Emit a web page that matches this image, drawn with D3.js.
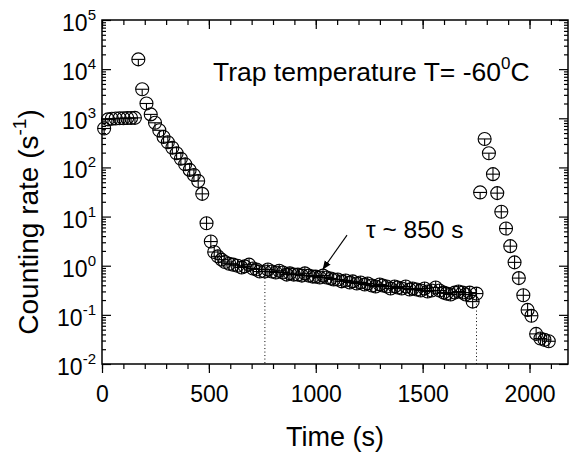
<!DOCTYPE html>
<html><head><meta charset="utf-8">
<script src="https://cdn.jsdelivr.net/npm/d3@7"></script>
<style>
body{margin:0;background:#fff}
svg{display:block}
text{font-family:"Liberation Sans",Arial,sans-serif;fill:#000}
</style>
</head><body>
<svg id="c" width="570" height="455"></svg>
<script>
// ---- data ----
const times = [
  10, 28, 46, 64, 82, 100, 118, 136, 154,
  170, 188, 208, 228, 248, 268, 288, 308, 329, 349, 369, 389, 410, 430, 450, 469, 489, 509,
  525, 542, 559, 575, 595, 614, 634, 653, 668, 688, 706, 723, 738, 762, 776, 794, 813, 829, 846, 864, 879, 897, 916, 935, 949, 967, 986, 1000,
  1019, 1034, 1051, 1070, 1084, 1103, 1121, 1140, 1159, 1173, 1192, 1210, 1229, 1243, 1262, 1280, 1299, 1313, 1332, 1350, 1369, 1383, 1402, 1421,
  1439, 1453, 1472, 1491, 1509, 1523, 1542, 1561, 1579, 1598, 1612, 1631, 1650, 1668, 1687, 1701, 1720, 1734, 1752,
  1769, 1790, 1810, 1829, 1849, 1868, 1890, 1910, 1930, 1950, 1971, 1991, 2009, 2031, 2051, 2070, 2090
];
const rates = [
  620, 950, 980, 990, 1000, 1000, 1010, 1010, 1020,
  15800, 3900, 2000, 1200, 810, 570, 415, 326, 252, 194, 150, 116, 89, 70, 53, 29, 7.3, 3.1,
  1.9, 1.55, 1.33, 1.19, 1.10, 1.05, 1.0, 0.92, 0.97, 1.05, 0.88, 0.84, 0.76, 0.76, 0.84, 0.76, 0.73, 0.79, 0.73, 0.66, 0.70, 0.66, 0.66, 0.63, 0.70, 0.63, 0.60, 0.60,
  0.575, 0.63, 0.575, 0.55, 0.525, 0.525, 0.48, 0.50, 0.455, 0.48, 0.435, 0.455, 0.414, 0.435, 0.395, 0.377, 0.414, 0.395, 0.377, 0.343, 0.377, 0.36, 0.343, 0.377,
  0.327, 0.343, 0.327, 0.312, 0.343, 0.298, 0.312, 0.36, 0.312, 0.284, 0.271, 0.259, 0.284, 0.298, 0.284, 0.259, 0.284, 0.186, 0.271,
  31, 380, 195, 73, 30, 12.5, 5.7, 2.5, 1.17, 0.56, 0.25, 0.126, 0.096, 0.041, 0.033, 0.031, 0.029
];
// points drawn with only the lower half of the vertical bar
const halfMarkerTimes = [10, 28, 46, 64, 82, 100, 118, 136, 154, 170, 188, 208, 228, 248, 268, 1769, 1790, 1810];
// times marked by dotted drop lines
const dropLineTimes = [762, 1752];
const xTickValues = [0, 500, 1000, 1500, 2000];
const xTickLabels = ["0", "500", "1000", "1500", "2000"];
const yExponents = [-2, -1, 0, 1, 2, 3, 4, 5];
const xTitle = "Time (s)";
const yTitleMain = "Counting rate (s";
const yTitleSup = "-1";
const noteMain = "Trap temperature T= -60";
const noteSup = "0";
const noteEnd = "C";
const tauLabel = "\u03C4 ~ 850 s";
const tauTime = 1034;

// ---- layout ----
const L = 102, R = 568, T = 20, B = 364;
const svg = d3.select("#c");
const x = d3.scaleLinear().domain([0, 2180]).range([L, R]);
const y = d3.scaleLog().domain([1e-2, 1e5]).range([B, T]);

const minorX = d3.range(0, 2101, 100);
const minorY = [];
for (let e = -2; e < 5; e++) for (let d = 2; d <= 9; d++) minorY.push(d * Math.pow(10, e));
const majorY = yExponents.map(e => Math.pow(10, e));

function clean(g){ g.select(".domain").remove(); g.selectAll("line").attr("stroke","#000").attr("stroke-width",1.2); }

// bottom (outward)
svg.append("g").attr("transform",`translate(0,${B})`)
  .call(d3.axisBottom(x).tickValues(minorX).tickSize(5).tickFormat("")).call(clean);
const gb = svg.append("g").attr("transform",`translate(0,${B})`)
  .call(d3.axisBottom(x).tickValues(xTickValues).tickSize(9).tickPadding(13)
        .tickFormat((d,i)=>xTickLabels[i])).call(clean);
gb.selectAll("text").attr("font-size",23).attr("font-family","Liberation Sans, Arial, sans-serif");

// top (inward)
svg.append("g").attr("transform",`translate(0,${T})`)
  .call(d3.axisTop(x).tickValues(minorX).tickSize(-5).tickFormat("")).call(clean);
svg.append("g").attr("transform",`translate(0,${T})`)
  .call(d3.axisTop(x).tickValues(xTickValues).tickSize(-9).tickFormat("")).call(clean);

// left (inward)
svg.append("g").attr("transform",`translate(${L},0)`)
  .call(d3.axisLeft(y).tickValues(minorY).tickSize(-4).tickFormat("")).call(clean);
svg.append("g").attr("transform",`translate(${L},0)`)
  .call(d3.axisLeft(y).tickValues(majorY).tickSize(-9).tickFormat("")).call(clean);
// right (inward)
svg.append("g").attr("transform",`translate(${R},0)`)
  .call(d3.axisRight(y).tickValues(minorY).tickSize(-4).tickFormat("")).call(clean);
svg.append("g").attr("transform",`translate(${R},0)`)
  .call(d3.axisRight(y).tickValues(majorY).tickSize(-9).tickFormat("")).call(clean);

// frame
svg.append("rect").attr("x",L).attr("y",T).attr("width",R-L).attr("height",B-T)
  .attr("fill","none").attr("stroke","#000").attr("stroke-width",1.5);

// y tick labels 10^n
const yl = svg.append("g");
yExponents.forEach(e=>{
  const t = yl.append("text").attr("x",96).attr("y",y(Math.pow(10,e))+11)
    .attr("text-anchor","end").attr("font-size",23);
  t.append("tspan").text("10");
  t.append("tspan").attr("font-size",15).attr("dy",-11).text(String(e));
});

// axis titles
svg.append("text").attr("x",(L+R)/2).attr("y",446).attr("text-anchor","middle")
  .attr("font-size",27).text(xTitle);
const yt = svg.append("text").attr("transform","translate(38,222) rotate(-90)")
  .attr("text-anchor","middle").attr("font-size",28);
yt.append("tspan").text(yTitleMain);
yt.append("tspan").attr("font-size",19).attr("dy",-12).text(yTitleSup);
yt.append("tspan").attr("dy",12).text(")");

// note
const nt = svg.append("text").attr("x",213).attr("y",81).attr("font-size",26.5);
nt.append("tspan").text(noteMain);
nt.append("tspan").attr("font-size",17).attr("dy",-12).text(noteSup);
nt.append("tspan").attr("dy",12).text(noteEnd);

// dotted drop lines
const r = 6.5;
dropLineTimes.forEach(tt=>{
  const i = times.indexOf(tt);
  svg.append("line").attr("x1",x(tt)).attr("x2",x(tt))
    .attr("y1",y(rates[i])+r).attr("y2",B)
    .attr("stroke","#000").attr("stroke-width",1).attr("stroke-dasharray","1,2.5");
});

// markers
const pts = svg.append("g").attr("fill","none").attr("stroke","#000").attr("stroke-width",1.1);
times.forEach((tt,i)=>{
  const g = pts.append("g").attr("transform",`translate(${x(tt)},${y(rates[i])})`);
  g.append("circle").attr("r",r);
  g.append("line").attr("x1",-r).attr("x2",r).attr("y1",0).attr("y2",0);
  const half = halfMarkerTimes.includes(tt);
  g.append("line").attr("x1",0).attr("x2",0).attr("y1",half?0:-r).attr("y2",r);
});

// tau annotation
svg.append("defs").append("marker").attr("id","ah").attr("viewBox","0 0 10 10")
  .attr("refX",9).attr("refY",5).attr("markerWidth",9).attr("markerHeight",9)
  .attr("markerUnits","userSpaceOnUse").attr("orient","auto")
  .append("path").attr("d","M0,1 L10,5 L0,9 Z").attr("fill","#000");
const ti = times.indexOf(tauTime);
const ax = x(tauTime), ay = y(rates[ti]) - r;
svg.append("line").attr("x1",ax+24).attr("y1",ay-34).attr("x2",ax).attr("y2",ay)
  .attr("stroke","#000").attr("stroke-width",1.1).attr("marker-end","url(#ah)");
svg.append("text").attr("x",366).attr("y",238).attr("font-size",24.5).text(tauLabel);
</script>
</body></html>
